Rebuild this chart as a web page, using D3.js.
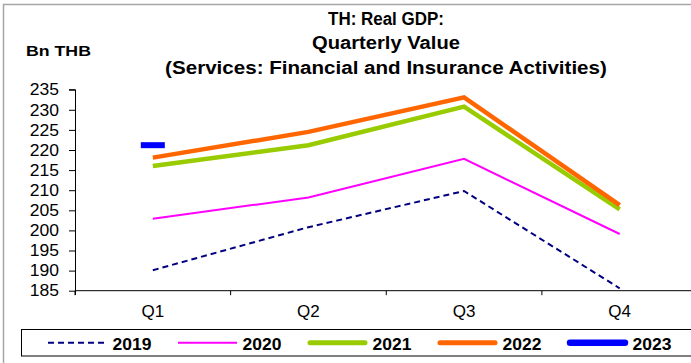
<!DOCTYPE html>
<html><head><meta charset="utf-8">
<script src="https://cdn.jsdelivr.net/npm/d3@7"></script>
<style>body{margin:0;background:#fff;} svg{display:block;font-family:"Liberation Sans",Arial,sans-serif;}</style>
</head><body>
<script>
const categories = ["Q1","Q2","Q3","Q4"];
const years = ["2019","2020","2021","2022","2023"];
const v2019 = [190.1, 200.8, 209.8, 185.6];
const v2020 = [202.9, 208.2, 217.8, 199.1];
const v2021 = [216.0, 221.2, 230.8, 205.2];
const v2022 = [218.1, 224.5, 233.1, 206.3];
const v2023 = [221.2];
const yTicks = [185,190,195,200,205,210,215,220,225,230,235];
const titleLines = ["TH: Real GDP:","Quarterly Value","(Services: Financial and Insurance Activities)"];
const unitLabel = "Bn THB";

const W=691,H=363;
const svg=d3.select("body").append("svg").attr("width",W).attr("height",H);
svg.append("rect").attr("x",3.5).attr("y",4.5).attr("width",720).attr("height",420)
  .attr("fill","#fff").attr("stroke","#a6a6a6").attr("stroke-width",1.5);

// horizontally scale a text element about its anchor x to reach a target width
function fitX(node, ax, target){
  const w=node.getComputedTextLength();
  const k=target/w;
  d3.select(node).attr("transform",`translate(${ax},0) scale(${k},1) translate(${-ax},0)`);
}

const x=d3.scaleBand().domain(categories).range([75,697.5]);
const y=d3.scaleLinear().domain([185,235]).range([290.7,89.7]);

// title
const titleLens=[116,148,442];
titleLines.forEach((t,i)=>{
  const tx=svg.append("text").attr("x",386).attr("y",25.3+i*24.2).attr("text-anchor","middle")
   .attr("font-weight","bold").attr("font-size",19).attr("fill","#000").text(t);
  fitX(tx.node(),386,titleLens[i]);
});
const ut=svg.append("text").attr("x",26).attr("y",56).attr("font-weight","bold").attr("font-size",15.5).text(unitLabel);
fitX(ut.node(),26,65);

// axes
const yAxis=svg.append("g").attr("transform","translate(75,0)")
  .call(d3.axisLeft(y).tickValues(yTicks).tickSize(6).tickPadding(10).tickFormat(d3.format("d")));
yAxis.select(".domain").attr("d","M-6,"+y(235)+"H0.5V295");
yAxis.selectAll("text").attr("font-size",16.5).attr("font-family","Liberation Sans, Arial, sans-serif").attr("fill","#000")
  .each(function(){ fitX(this,-16,29.3); });
yAxis.selectAll("line").attr("stroke","#000");
yAxis.select(".domain").attr("stroke","#000");

const xg=svg.append("g").attr("transform","translate(0,"+y(185)+")");
xg.append("line").attr("x1",75).attr("x2",700).attr("stroke","#000");
const bounds=categories.map(c=>x(c)).concat([x(categories[3])+x.bandwidth()]);
bounds.forEach(b=>xg.append("line").attr("x1",b).attr("x2",b).attr("y1",0).attr("y2",4.5).attr("stroke","#000"));
categories.forEach(c=>xg.append("text").attr("x",x(c)+x.bandwidth()/2).attr("y",26.5).attr("text-anchor","middle")
  .attr("font-size",17).attr("fill","#000").text(c));

const cx=c=>x(c)+x.bandwidth()/2;
const line=d3.line().x((d,i)=>cx(categories[i])).y(d=>y(d));
const series=[
 {vals:v2019,color:"#000080",w:2,dash:"6,4"},
 {vals:v2020,color:"#ff00ff",w:2,dash:null},
 {vals:v2021,color:"#99cc00",w:4.5,dash:null},
 {vals:v2022,color:"#ff6600",w:4.5,dash:null}
];
series.forEach(s=>{
  svg.append("path").attr("d",line(s.vals)).attr("fill","none").attr("stroke",s.color)
   .attr("stroke-width",s.w).attr("stroke-dasharray",s.dash).attr("stroke-linejoin","miter");
});
v2023.forEach((v,i)=>{
  svg.append("rect").attr("x",cx(categories[i])-12).attr("y",y(v)-3).attr("width",24).attr("height",6).attr("fill","#0000ff");
});

// legend
const lg=svg.append("g");
lg.append("rect").attr("x",21.5).attr("y",329.5).attr("width",700).attr("height",26.5).attr("fill","#fff").attr("stroke","#000");
const legStyles=[
 {color:"#000080",w:2,dash:"6,4",cap:"butt"},
 {color:"#ff00ff",w:2,dash:null,cap:"butt"},
 {color:"#99cc00",w:5,dash:null,cap:"round"},
 {color:"#ff6600",w:5,dash:null,cap:"round"},
 {color:"#0000ff",w:6.5,dash:null,cap:"round"}
];
years.forEach((yr,i)=>{
  const x0=48+i*130, ly=342.8;
  const s=legStyles[i];
  lg.append("line").attr("x1",x0+(s.cap==="round"?2:0)).attr("x2",x0+59-(s.cap==="round"?2:0)).attr("y1",ly).attr("y2",ly)
    .attr("stroke",s.color).attr("stroke-width",s.w).attr("stroke-dasharray",s.dash).attr("stroke-linecap",s.cap);
  const lt=lg.append("text").attr("x",x0+64.5).attr("y",350).attr("font-weight","bold").attr("font-size",17).attr("fill","#000").text(yr);
  fitX(lt.node(),x0+64.5,39);
});
</script>
</body></html>
